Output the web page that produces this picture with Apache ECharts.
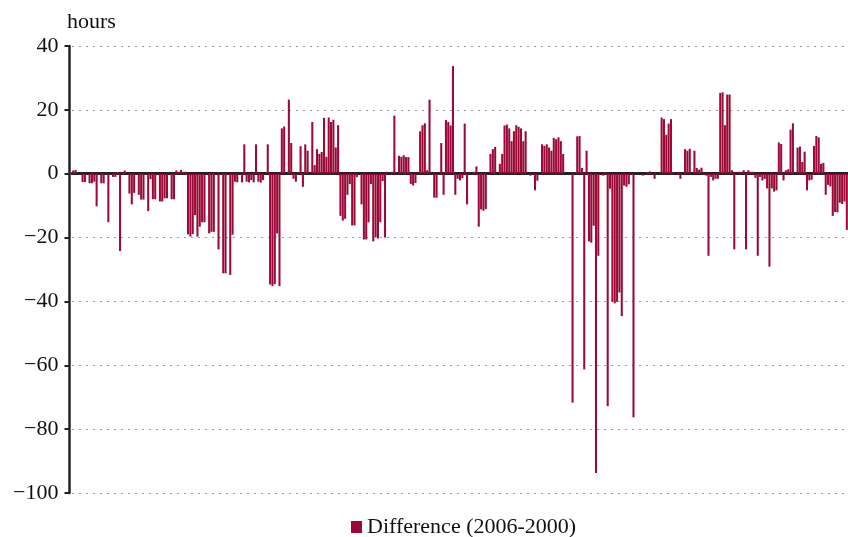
<!DOCTYPE html>
<html lang="en">
<head>
    <meta charset="UTF-8">
    <title>Difference (2006-2000)</title>
    <script src="https://cdn.jsdelivr.net/npm/echarts@6/dist/echarts.min.js"></script>
    <style>
        html, body { margin: 0; padding: 0; background: #fff; }
    </style>
</head>
<body>
<div id="main" style="width: 848px;height:537px;"></div>
<script>
    // 数值，从图上读出（小时）
    var values = [
        1, 1.2, 0, 0, -2.6, -2.6, 0, -3, -3, -2.5,
        -10.2, 0, -3, -3, 0, -15.2, 0, -1, -1, 0.5,
        -24.2, 0.5, 1, 0, -6.2, -9.6, -6, 0, -6.6, -8.1,
        -8.1, 0, -11.7, -1.7, -8, -8, 0, -8.7, -8.7, -7.7,
        -7.7, 0, -8, -8, 1, 0.5, 1.2, 0.6, 0.6, -19,
        -19.7, -18.9, -13, -19.7, -16.6, -15.2, -15.2, 0, -18.7, -18.2,
        -18.2, 0, -23.7, 0, -31.2, -31.2, 0, -31.7, -19.1, -2.5,
        -2.7, 0, -2.7, 9.2, -2.5, -2.7, -2, -2.7, 9.2, -2.5,
        -2.8, -2, 0, 9.2, -34.7, -35.2, -34.6, -18.7, -35.2, 14.2,
        14.8, 0, 23.2, 9.6, -1.6, -2.5, 0, 8.6, -4.1, 9.2,
        7.2, 0, 16.2, 2.7, 7.7, 6.2, 6.8, 17.5, 5.3, 17.6,
        16.2, 16.9, 8.2, 15.2, -13.2, -14.7, -14.1, -6.6, -3.2, -16.2,
        -16.2, -1.1, 0, -9.6, -20.6, -20.6, -15.2, -3.2, -21.2, -19.9,
        -20.3, -15.2, -2.3, -20, 0.6, 0, 0.6, 18.2, 0, 5.6,
        5.3, 5.8, 5.2, 5.2, -3.2, -3.7, -2.9, 0, 13.3, 15.2,
        15.8, 1.1, 23.2, 0, -7.5, -7.5, 0, 9.6, -6.6, 16.8,
        16.2, 15.1, 33.7, -6.6, -1.6, -2.1, -1.4, 15.7, -9.6, 0.5,
        0, 0.6, 2.3, -16.6, -11.2, -11.6, -11.1, 0, 6.2, 7.7,
        8.4, 0, 3.1, 6.2, 15.1, 15.4, 14.2, 10.2, 13.3, 15.2,
        14.7, 14.2, 10.2, 13.3, 0, -0.6, 0, -5.2, -2.2, 0,
        9.2, 8.7, 9.2, 8.2, 7.2, 11.2, 10.8, 11.4, 10.2, 6.2,
        0, 0, 0, -71.7, 0, 11.7, 11.8, 1.8, -61.3, 7.2,
        -21.2, -21.6, -16.3, -93.7, -25.7, 0, -0.6, 0.5, -72.8, -4.7,
        -40.1, -40.6, -40.1, -37.2, -44.6, -3.7, -4.1, -3.3, 0, -76.3,
        0, 0, 0, -0.6, 0, 0.5, 0.7, 0, -1.6, 0,
        0, 17.6, 17.1, 12.2, 15.7, 17.1, 0.5, 0, 0.5, -1.6,
        0, 7.7, 7.2, 7.8, 0, 7.2, 1.8, 1.3, 1.9, 0,
        -0.6, -25.7, -1, -2.1, -1.6, -1.6, 25.3, 25.5, 15.2, 24.8,
        24.8, 1.1, -23.7, 0, 0.6, 0.6, 1.1, -23.7, 1.1, 0.6,
        0.6, -1.3, -25.7, -1, -2.1, -1.6, -4.6, -29.1, -4.6, -5.6,
        -5.2, 9.8, 9.3, -2.1, 1.1, 1.4, 13.8, 15.8, 0, 8.2,
        8.5, 3.7, 6.9, -5.2, -2.1, -1.9, 8.7, 11.8, 11.4, 3.1,
        3.4, -6.6, -3.5, -4, -13.2, -12, -12.1, -9.1, -9.5, -8.7,
        -17.6
    ];
    // 类别（横轴无标签，只按顺序）
    var categories = [];
    for (var i = 0; i < values.length; i++) {
        categories.push(String(i + 1));
    }
    var yTicks = [-100, -80, -60, -40, -20, 0, 20, 40];
    var seriesName = 'Difference (2006-2000)';

    var font = '"Liberation Serif", "DejaVu Serif", serif';
    var myChart = echarts.init(document.getElementById('main'));
    myChart.setOption({
        animation: false,
        title: {
            text: 'hours',
            left: 62,
            top: 6,
            textStyle: { fontFamily: font, fontSize: 22, fontWeight: 'normal', color: '#111' }
        },
        legend: {
            data: [seriesName],
            left: 346,
            top: 511,
            icon: 'rect',
            itemWidth: 11,
            itemHeight: 12,
            itemGap: 6,
            textStyle: { fontFamily: font, fontSize: 22, color: '#111' }
        },
        grid: { left: 72, right: 0, top: 46, bottom: 44, containLabel: false },
        xAxis: {
            type: 'category',
            data: categories,
            axisLine: { onZero: true, lineStyle: { color: '#222', width: 3 } },
            axisTick: { show: false },
            axisLabel: { show: false },
            splitLine: { show: false }
        },
        yAxis: {
            type: 'value',
            min: yTicks[0],
            max: yTicks[yTicks.length - 1],
            interval: 20,
            offset: 2.5,
            axisLine: { show: true, onZero: false, lineStyle: { color: '#222', width: 2.5 } },
            axisTick: { show: true, length: 5, lineStyle: { color: '#222', width: 2 } },
            axisLabel: {
                margin: 11,
                fontFamily: font,
                fontSize: 22,
                color: '#111',
                formatter: function (v) { return v < 0 ? '\u2212' + Math.abs(v) : String(v); }
            },
            splitLine: { show: true, lineStyle: { color: '#999', width: 1, type: [2, 5] } }
        },
        series: [{
            name: seriesName,
            type: 'bar',
            data: values,
            barCategoryGap: '12%',
            itemStyle: { color: '#9b0a37' }
        }]
    });
</script>
</body>
</html>
